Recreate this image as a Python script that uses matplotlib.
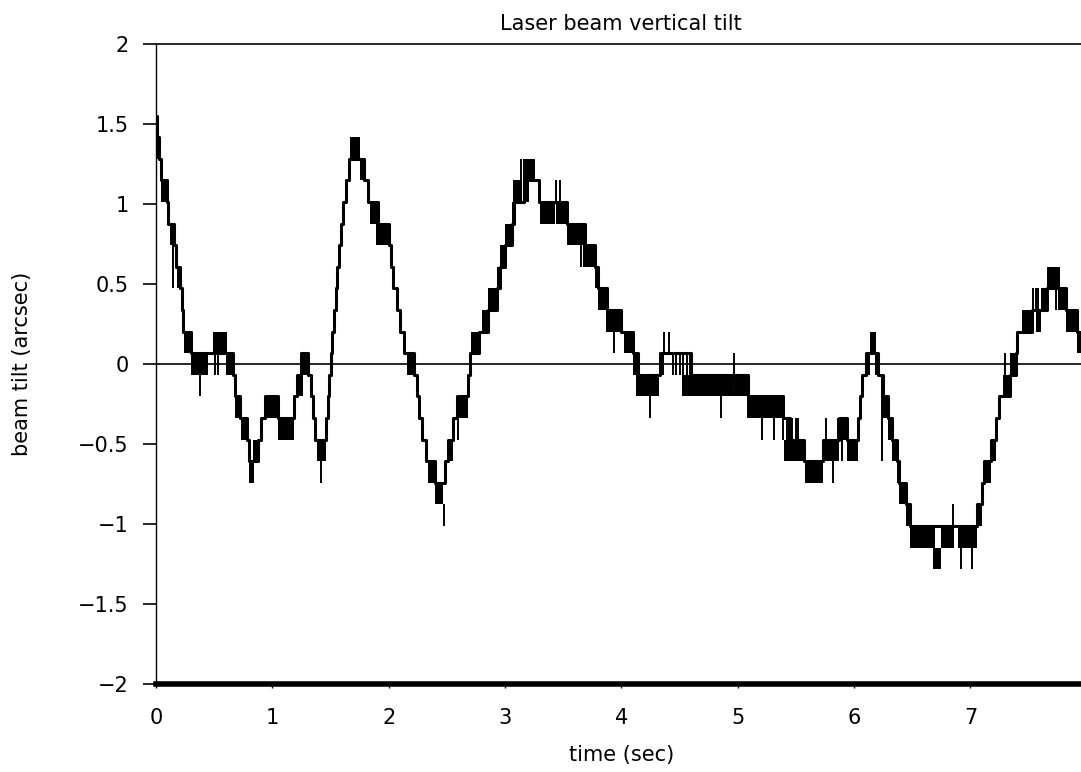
import numpy as np
import matplotlib
matplotlib.use('Agg')
import matplotlib.pyplot as plt

plt.rcParams['font.family'] = ['DejaVu Sans']

# quantiser step of the tilt readout (arcsec); level k sits at (k + 0.5) * QSTEP
QSTEP = 0.135

# held levels of the trace: time (sec) where the level starts, level index
hold_t = [0.00, 0.01, 0.025, 0.04, 0.095, 0.105, 0.155, 0.17, 0.21, 0.22, 0.235, 0.30,
          0.66, 0.68, 0.72, 0.78, 0.80, 0.88, 0.90, 0.94, 1.05, 1.19, 1.21, 1.25, 1.31,
          1.33, 1.35, 1.37, 1.46, 1.475, 1.49, 1.50, 1.515, 1.53, 1.545, 1.56, 1.575,
          1.59, 1.61, 1.63, 1.66, 1.79, 1.82, 1.91, 2.00, 2.02, 2.04, 2.07, 2.10, 2.13,
          2.22, 2.24, 2.26, 2.29, 2.32, 2.40, 2.48, 2.51, 2.55, 2.59, 2.68, 2.70, 2.78,
          2.85, 2.93, 2.96, 3.00, 3.06, 3.08, 3.16, 3.29, 3.53, 3.69, 3.77, 3.80, 3.88,
          4.00, 4.10, 4.14, 4.33, 4.60, 5.09, 5.39, 5.45, 5.57, 5.73, 5.87, 5.94, 6.03,
          6.05, 6.07, 6.10, 6.21, 6.245, 6.29, 6.33, 6.37, 6.39, 6.45, 6.48, 7.06, 7.10,
          7.12, 7.18, 7.22, 7.25, 7.34, 7.39, 7.40, 7.53, 7.66, 7.82, 7.92, 8.00]
hold_k = [11, 10, 9, 8, 7, 6, 5, 4, 3, 2, 1, 0,
          -1, -2, -3, -4, -5, -4, -3, -2, -3, -2, -1, 0, -1,
          -2, -3, -4, -3, -2, -1, 0, 1, 2, 3, 4, 5,
          6, 7, 8, 9, 8, 7, 6, 5, 4, 3, 2, 1, 0,
          -1, -2, -3, -4, -5, -6, -5, -4, -3, -2, -1, 0, 1,
          2, 3, 4, 5, 6, 7, 8, 7, 6, 5, 4, 3, 2,
          1, 0, -1, 0, -1, -2, -3, -4, -5, -4, -3, -4, -3,
          -2, -1, 0, -1, -2, -3, -4, -5, -6, -7, -8, -7, -6,
          -5, -4, -3, -2, -1, 0, 1, 2, 3, 2, 1, 1]

# fast toggling between level k and k+1: start, end, lower level k
blk_t0 = [0.01, 0.04, 0.12, 0.18, 0.24, 0.30, 0.49, 0.60, 0.68, 0.73, 0.80, 0.83,
          0.94, 1.05, 1.21, 1.25, 1.38, 1.67, 1.75, 1.84, 1.89, 2.16, 2.34, 2.40,
          2.51, 2.59, 2.71, 2.80, 2.85, 2.93, 2.96, 3.00, 3.06, 3.07, 3.16, 3.17,
          3.30, 3.44, 3.53, 3.67, 3.77, 3.80, 3.87, 4.02, 4.10, 4.13, 4.32, 4.52,
          4.98, 5.08, 5.40, 5.58, 5.73, 5.87, 5.94, 6.10, 6.14, 6.18, 6.245, 6.29,
          6.33, 6.37, 6.39, 6.45, 6.48, 6.68, 6.75, 6.89, 7.05, 7.12, 7.18, 7.28,
          7.34, 7.44, 7.56, 7.61, 7.66, 7.75, 7.82, 7.92]
blk_t1 = [0.035, 0.095, 0.155, 0.21, 0.30, 0.45, 0.61, 0.66, 0.72, 0.78, 0.84, 0.88,
          1.07, 1.19, 1.26, 1.31, 1.46, 1.75, 1.79, 1.91, 2.00, 2.22, 2.40, 2.47,
          2.55, 2.68, 2.78, 2.85, 2.93, 2.96, 3.00, 3.06, 3.08, 3.15, 3.21, 3.26,
          3.43, 3.53, 3.70, 3.77, 3.80, 3.88, 4.00, 4.10, 4.14, 4.32, 4.37, 4.96,
          5.09, 5.39, 5.57, 5.73, 5.85, 5.94, 6.03, 6.14, 6.19, 6.21, 6.29, 6.33,
          6.37, 6.39, 6.45, 6.48, 6.70, 6.75, 6.86, 7.06, 7.10, 7.18, 7.22, 7.34,
          7.39, 7.53, 7.61, 7.68, 7.77, 7.82, 7.92, 8.00]
blk_k = [9, 7, 5, 3, 0, -1, 0, -1, -3, -4, -6, -5,
         -3, -4, -2, -1, -5, 9, 8, 6, 5, -1, -6, -7,
         -5, -3, 0, 1, 2, 3, 4, 5, 6, 7, 7, 8,
         6, 6, 5, 4, 3, 2, 1, 0, -1, -2, -1, -2,
         -2, -3, -5, -6, -5, -4, -5, -1, 0, -1, -3, -4,
         -5, -6, -7, -8, -9, -10, -9, -9, -8, -6, -5, -2,
         -1, 1, 1, 2, 3, 2, 1, 0]

# single glitches: time, level from, level to
spk_t = [0.15, 0.378, 0.51, 0.535, 1.42, 2.475, 2.60, 3.14, 3.16, 3.44, 3.47, 3.65,
         3.69, 3.94, 4.25, 4.37, 4.41, 4.44, 4.47, 4.50, 4.53, 4.56, 4.59, 4.86, 4.97,
         5.21, 5.31, 5.39, 5.42, 5.44, 5.47, 5.50, 5.52, 5.76, 5.82, 5.86, 5.90, 6.24,
         6.85, 6.92, 7.01, 7.30, 7.54, 7.56, 7.58, 7.74, 7.78, 7.86]
spk_k0 = [5, -1, 0, 0, -5, -7, -3, 8, 8, 7, 7, 5,
          5, 1, -2, 0, 0, 0, 0, 0, 0, 0, 0, -2, -2,
          -3, -3, -3, -3, -3, -3, -3, -3, -4, -5, -3, -3, -1,
          -8, -9, -9, -1, 2, 2, 2, 3, 3, 2]
spk_k1 = [3, -2, -1, -1, -6, -8, -4, 9, 9, 8, 8, 4,
          4, 0, -3, 1, 1, -1, -1, -1, -1, -1, -1, -3, 0,
          -4, -4, -4, -4, -4, -4, -4, -4, -3, -6, -5, -5, -5,
          -7, -10, -10, 0, 3, 3, 3, 2, 2, 1]

xticks = [0, 1, 2, 3, 4, 5, 6, 7]
yticks = [-2, -1.5, -1, -0.5, 0, 0.5, 1, 1.5, 2]
ytick_labels = ['\u22122', '\u22121.5', '\u22121', '\u22120.5', '0', '0.5', '1', '1.5', '2']


def lev(k):
    return (np.asarray(k, dtype=float) + 0.5) * QSTEP


fig = plt.figure(figsize=(10.81, 7.72), dpi=100)
ax = fig.add_axes([0.1443, 0.114, 0.861, 0.829])

ax.step(hold_t, lev(hold_k), where='post', color='black', lw=2.2)
ax.bar(blk_t0, QSTEP, width=np.subtract(blk_t1, blk_t0), bottom=lev(blk_k),
       align='edge', color='black', lw=0)
ax.vlines(spk_t, lev(spk_k0), lev(spk_k1), color='black', lw=1.4)
ax.axhline(0, color='black', lw=1.2)

ax.set_xlim(0, 8)
ax.set_ylim(-2, 2)
ax.spines['right'].set_visible(False)
ax.spines['top'].set_linewidth(1.2)
ax.spines['left'].set_linewidth(1.0)
ax.spines['bottom'].set_linewidth(4)

ax.set_xticks(xticks)
ax.set_yticks(yticks)
ax.set_yticklabels(ytick_labels)
ax.tick_params(axis='y', direction='out', length=9.5, width=1.2, pad=10, labelsize=15)
ax.tick_params(axis='x', direction='out', length=3, width=1.0, pad=14, labelsize=15)

ax.set_title('Laser beam vertical tilt', fontsize=15, pad=10)
ax.set_xlabel('time (sec)', fontsize=15)
ax.set_ylabel('beam tilt (arcsec)', fontsize=15)
ax.xaxis.set_label_coords(0.5, -0.095)
ax.yaxis.set_label_coords(-0.133, 0.5)

fig.savefig('out.png', dpi=100)
